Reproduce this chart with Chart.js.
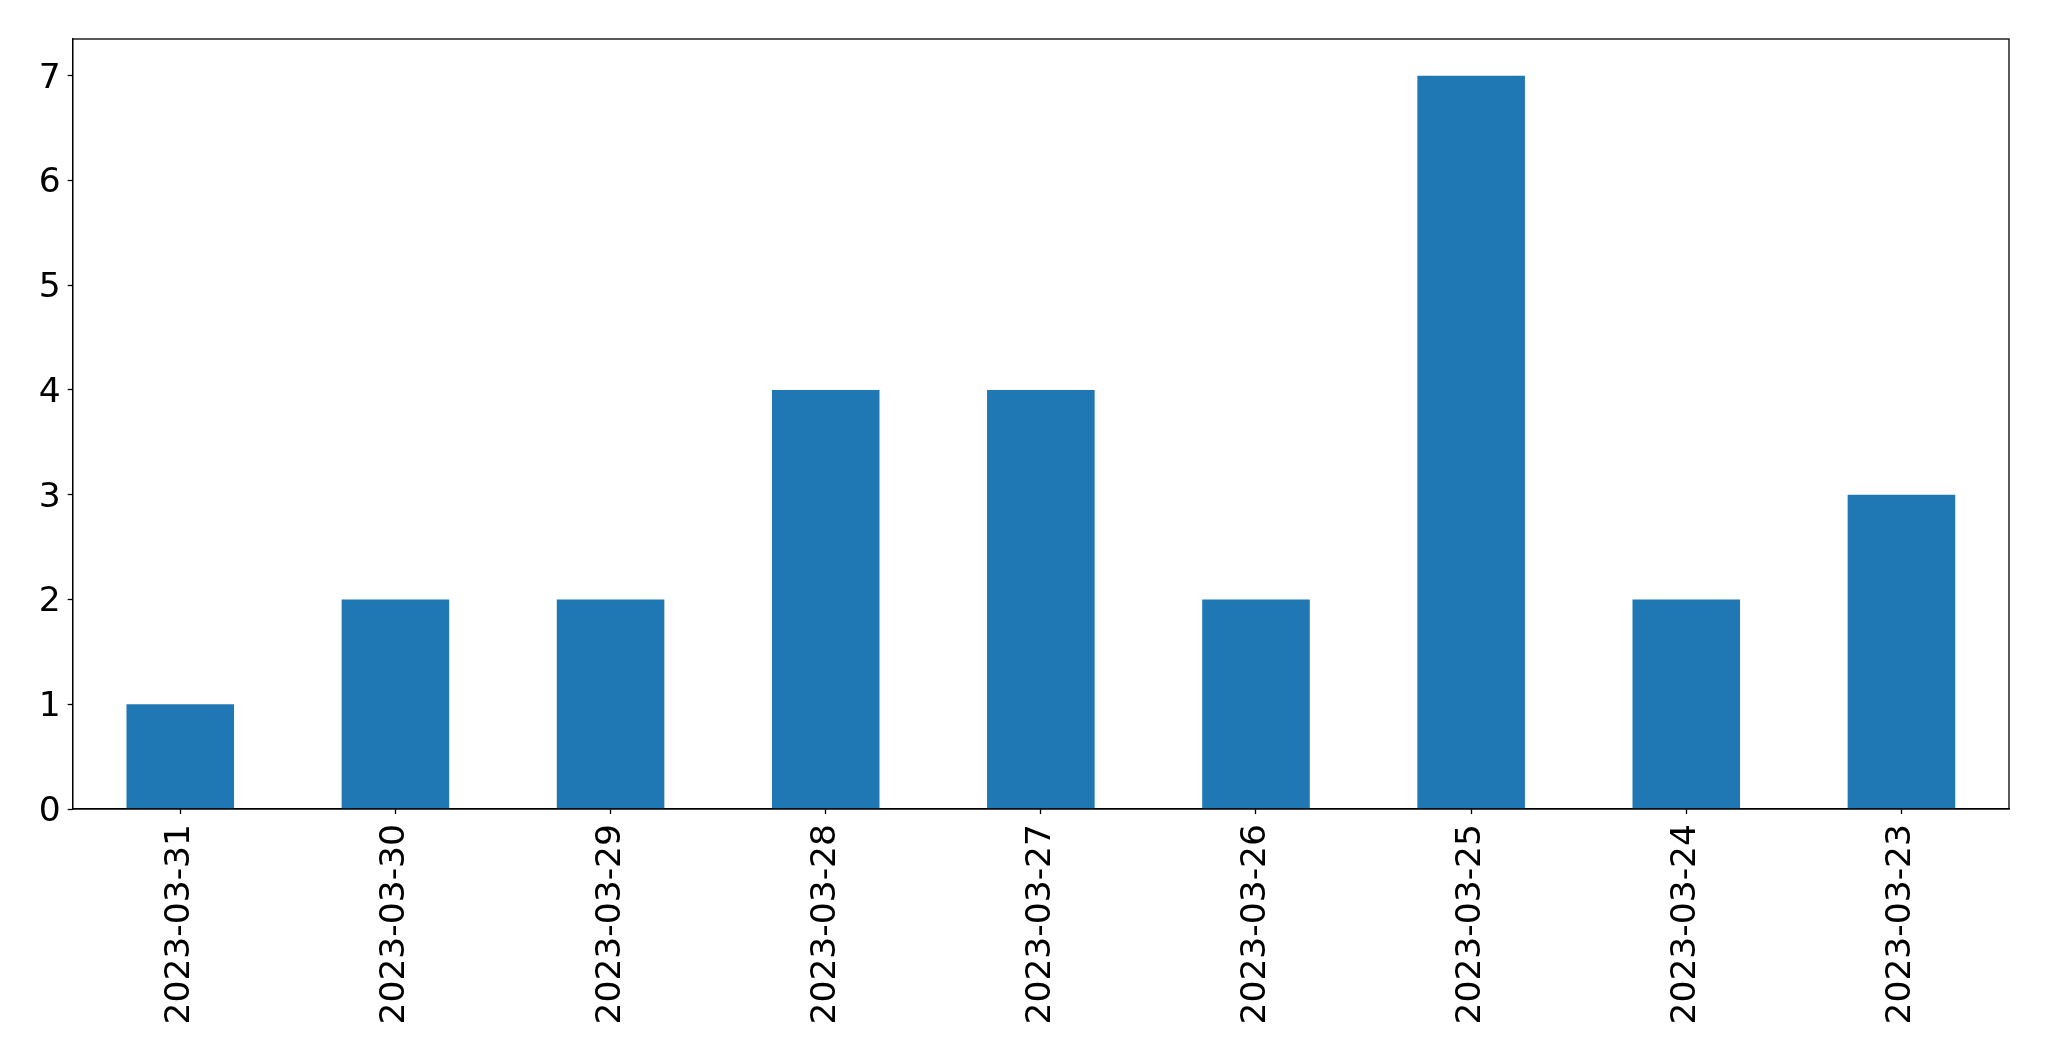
<!DOCTYPE html>
<html>
<head>
<meta charset="utf-8">
<script src="https://cdn.jsdelivr.net/npm/chart.js@4/dist/chart.umd.min.js"></script>
<style>
    html, body { margin: 0; padding: 0; background: #ffffff; }
    #wrap { width: 2049px; height: 1061px; }
</style>
</head>
<body>
<div id="wrap"><canvas id="chart" width="2049" height="1061"></canvas></div>
<script>
const dates = ['2023-03-31', '2023-03-30', '2023-03-29', '2023-03-28', '2023-03-27', '2023-03-26', '2023-03-25', '2023-03-24', '2023-03-23'];
const counts = [1, 2, 2, 4, 4, 2, 7, 2, 3];
const yTicks = [0, 1, 2, 3, 4, 5, 6, 7];

const font = { family: 'DejaVu Sans', size: 34.5 };

// top and right spines, like matplotlib's frame
const frame = {
    id: 'frame',
    afterDraw(chart) {
        const { ctx, chartArea } = chart;
        ctx.save();
        ctx.strokeStyle = '#000000';
        ctx.lineWidth = 1.3;
        ctx.strokeRect(chartArea.left, chartArea.top, chartArea.right - chartArea.left, chartArea.bottom - chartArea.top);
        ctx.restore();
    },
};

new Chart(document.getElementById('chart'), {
    type: 'bar',
    data: {
        labels: dates,
        datasets: [
            {
                data: counts,
                backgroundColor: '#1f77b4',
                borderWidth: 0,
                categoryPercentage: 0.5,
                barPercentage: 1,
            },
        ],
    },
    options: {
        responsive: false,
        animation: false,
        layout: { padding: { top: 39, right: 40, left: 0, bottom: 0 } },
        plugins: { legend: { display: false }, tooltip: { enabled: false } },
        scales: {
            x: {
                grid: { display: true, drawOnChartArea: false, offset: false, tickLength: 5, tickColor: '#000000', tickWidth: 1.3 },
                border: { display: true, color: '#000000', width: 1.3 },
                ticks: { color: '#000000', font, minRotation: 90, maxRotation: 90, padding: 10, autoSkip: false },
                afterFit(scale) { scale.height = 252; },
            },
            y: {
                min: 0,
                max: 7.35,
                grid: { display: true, drawOnChartArea: false, tickLength: 5, tickColor: '#000000', tickWidth: 1.3 },
                border: { display: true, color: '#000000', width: 1.3 },
                ticks: { color: '#000000', font, stepSize: 1, includeBounds: false, padding: 7, labelOffset: 3 },
                afterBuildTicks(scale) { scale.ticks = yTicks.map((value) => ({ value })); },
                afterFit(scale) { scale.width = 72.7; },
            },
        },
    },
    plugins: [frame],
});
</script>
</body>
</html>
